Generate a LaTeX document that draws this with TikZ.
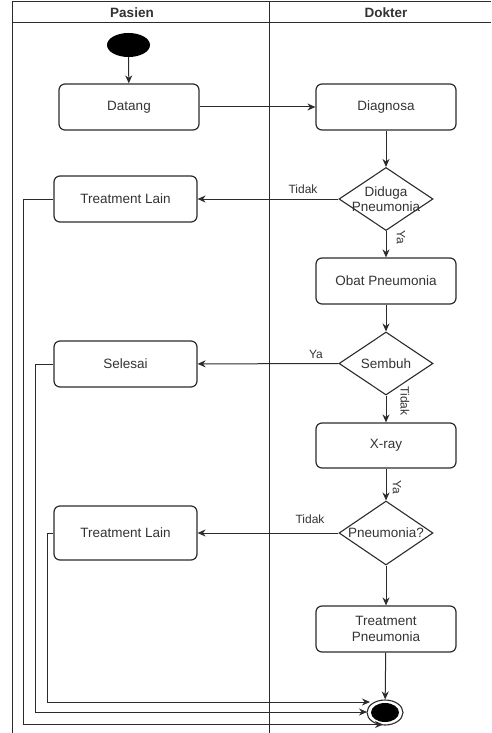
\documentclass[tikz,border=0pt]{standalone}
\usepackage{fontspec}
\setmainfont{Liberation Sans}
\usetikzlibrary{shapes.geometric,arrows.meta}
\definecolor{ink}{HTML}{2B2B2B}
\definecolor{txt}{HTML}{333333}
\tikzset{
  x=1pt, y=-1pt,
  act/.style={draw=ink, line width=1.2pt, rounded corners=6pt, minimum width=140pt, minimum height=46pt, inner sep=0pt, text=txt, font=\fontsize{13.5}{15.5}\selectfont, align=center},
  dec/.style={draw=ink, line width=1.1pt, diamond, minimum width=94pt, minimum height=63pt, inner sep=0pt},
  dectext/.style={text=txt, font=\fontsize{13.5}{15.5}\selectfont, align=center},
  flow/.style={draw=ink, line width=1pt, -{Stealth[length=8pt,width=7pt]}},
  lbl/.style={text=txt, font=\fontsize{12}{14}\selectfont, inner sep=0pt},
  hdr/.style={text=txt, font=\fontsize{13.5}{15}\selectfont\bfseries, inner sep=0pt},
  frame/.style={draw=ink, line width=1pt},
}
\begin{document}
\begin{tikzpicture}
\useasboundingbox (0,0) rectangle (491,733);
% swimlane frame
\draw[frame] (491,2) -- (12,2) -- (12,733);
\draw[frame] (12,23) -- (491,23);
\draw[frame] (269,2) -- (269,733);
\node[hdr] (hp) at (132,13) {Pasien};
\node[hdr] (hd) at (386,13) {Dokter};
% nodes
\node[ellipse, fill=black, minimum width=43pt, minimum height=24pt, inner sep=0pt] (start) at (128.5,45) {};
\node[act] (datang) at (129,107) {Datang};
\node[act] (diag) at (386,107) {Diagnosa};
\node[dec] (d1) at (386,199) {};
\node[dectext] (d1t) at (d1.center) {Diduga\\Pneumonia};
\node[act, minimum width=143pt] (tl1) at (125.5,199) {Treatment Lain};
\node[act] (obat) at (386,281) {Obat Pneumonia};
\node[dec] (d2) at (386,363.5) {};
\node[dectext] (d2t) at (d2.center) {Sembuh};
\node[act, minimum width=143pt] (sel) at (125.5,364) {Selesai};
\node[act, minimum height=45pt] (xray) at (386,445.5) {X-ray};
\node[dec, minimum height=64pt] (d3) at (386,533) {};
\node[dectext] (d3t) at (d3.center) {Pneumonia?};
\node[act, minimum width=143pt, minimum height=54pt] (tl2) at (125.5,533) {Treatment Lain};
\node[act] (tp) at (386,629) {Treatment\\Pneumonia};
\node[ellipse, draw=ink, line width=1.1pt, minimum width=36pt, minimum height=25pt, inner sep=0pt] (end) at (385,712.5) {};
\node[ellipse, fill=black, minimum width=28pt, minimum height=19pt, inner sep=0pt] (endin) at (385,712.5) {};
\coordinate (e1) at (370,702);
\coordinate (e2) at (367,712);
\coordinate (e3) at (383,724.5);
% connectors
\draw[flow] (start) -- (datang);
\draw[flow] (datang) -- (diag);
\draw[flow] (diag) -- (d1);
\draw[flow] (d1) -- (tl1);
\draw[flow] (d1) -- (obat);
\draw[flow] (obat) -- (d2);
\draw[flow] (d2) -- (sel);
\draw[flow] (d2) -- (xray);
\draw[flow] (xray) -- (d3);
\draw[flow] (d3) -- (tl2);
\draw[flow] (d3) -- (tp);
\draw[flow] (tp) -- (end);
\draw[flow] (tl1.west) -- (23,199) |- (e3);
\draw[flow] (sel.west) -- (35,364) |- (e2);
\draw[flow] (tl2.west) -- (47,533) |- (e1);
% connector labels
\node[lbl] (l1) at (303,189) {Tidak};
\node[lbl, rotate=-90] (l2) at (401,237) {Ya};
\node[lbl] (l3) at (316,354) {Ya};
\node[lbl, rotate=-90] (l4) at (405,401) {Tidak};
\node[lbl, rotate=-90] (l5) at (397,487) {Ya};
\node[lbl] (l6) at (310,519) {Tidak};
\end{tikzpicture}
\end{document}
